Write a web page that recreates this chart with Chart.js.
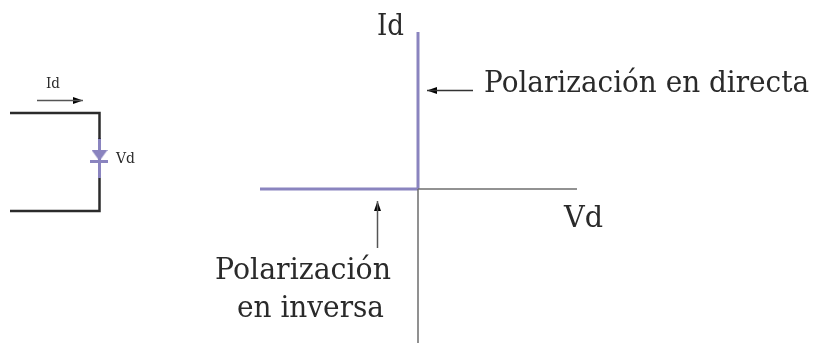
<!DOCTYPE html>
<html><head><meta charset="utf-8">
<style>html,body{margin:0;padding:0;background:#fff}canvas{display:block}</style>
<script src="https://cdn.jsdelivr.net/npm/chart.js@4"></script>
</head><body><canvas id="c" width="814" height="343"></canvas>
<script>
// I-V curve of an ideal diode (Vd, Id in schematic units, origin at the axes crossing)
const axisVdX=[0,159], axisVdY=[0,0];
const axisIdX=[0,0], axisIdY=[0,-154];
const reverseVd=[-158,0], reverseId=[0,0];
const forwardVd=[0,0], forwardId=[0,157];
// pointer arrows
const arrowDirectX=[55,9], arrowDirectY=[98.5,98.5];
const arrowInverseX=[-40.5,-40.5], arrowInverseY=[-59,-12];
// circuit
const wireTopX=[-408,-318.5,-318.5], wireTopY=[76,76,50];
const wireBottomX=[-408,-318.5,-318.5], wireBottomY=[-22,-22,11];
const stemX=[-318.5,-318.5], stemY=[51,11];
const diodeBarX=[-328,-310], diodeBarY=[27.5,27.5];
const diodeBodyX=[-318.5], diodeBodyY=[33.5];
const arrowIdX=[-381,-335], arrowIdY=[88.5,88.5];
// text
const labelTexts=['Id','Polarización en directa','Vd','Polarización','en inversa','Id','Vd'];
const labelX=[-41,66,146,-203,-181,-372,-302];
const labelY=[154,97,-38,-90,-128,101,26];
const labelSize=[30,30,30,30,30,14,15];
const labelWidth=[27,325,39,176,147,14,19];

const PURPLE='#8a84bf', GRAY='#6e6e6e', BLACK='#2b2b2b', INK='#2a2a2a';
const pts=(xs,ys)=>xs.map((x,i)=>({x,y:ys[i]}));
function sprite(w,h,color){
  const c=document.createElement('canvas');c.width=w;c.height=h;
  const g=c.getContext('2d');g.fillStyle=color;
  g.beginPath();g.moveTo(w/2,0);g.lineTo(w,h);g.lineTo(0,h);g.closePath();g.fill();
  return c;
}
const head=sprite(7,10,'#000');
const diodeTri=sprite(16,11,PURPLE);
const line=(xs,ys,color,width)=>({data:pts(xs,ys),borderColor:color,borderWidth:width,pointRadius:0,fill:false,tension:0,showLine:true,borderJoinStyle:'miter',borderCapStyle:'butt',clip:false});
const tip=(x,y,rot,style)=>({data:[{x,y}],showLine:false,pointStyle:style,pointRotation:rot,pointRadius:6,pointHoverRadius:6,borderWidth:0,clip:false});

const labelPlugin={id:'labels',afterDatasetsDraw(chart){
  const {ctx,scales:{x,y}}=chart;ctx.save();ctx.fillStyle=INK;ctx.textAlign='left';ctx.textBaseline='alphabetic';
  labelTexts.forEach((t,i)=>{ctx.font=labelSize[i]+'px "DejaVu Serif"';
    ctx.fillText(t,x.getPixelForValue(labelX[i]),y.getPixelForValue(labelY[i]),labelWidth[i]);});
  ctx.restore();}};

new Chart(document.getElementById('c'),{type:'scatter',
 data:{datasets:[
  line(axisVdX,axisVdY,GRAY,1.5),line(axisIdX,axisIdY,GRAY,1.5),
  line(reverseVd,reverseId,PURPLE,3),line(forwardVd,forwardId,PURPLE,3),
  line(arrowDirectX,arrowDirectY,'#333',1.5),tip(14,98.5,-90,head),
  line(arrowInverseX,arrowInverseY,'#555',1.5),tip(-40.5,-17,0,head),
  line(wireTopX,wireTopY,BLACK,2.5),line(wireBottomX,wireBottomY,BLACK,2.5),
  line(stemX,stemY,PURPLE,3),line(diodeBarX,diodeBarY,PURPLE,3),tip(diodeBodyX[0],diodeBodyY[0],180,diodeTri),
  line(arrowIdX,arrowIdY,'#555',1.5),tip(-340,88.5,90,head)
 ]},
 options:{responsive:false,animation:false,events:[],layout:{padding:0,autoPadding:false},
  plugins:{legend:{display:false},tooltip:{enabled:false},title:{display:false}},
  scales:{x:{type:'linear',display:false,min:-418,max:396},y:{type:'linear',display:false,min:-154,max:189}}},
 plugins:[labelPlugin]});
</script></body></html>
